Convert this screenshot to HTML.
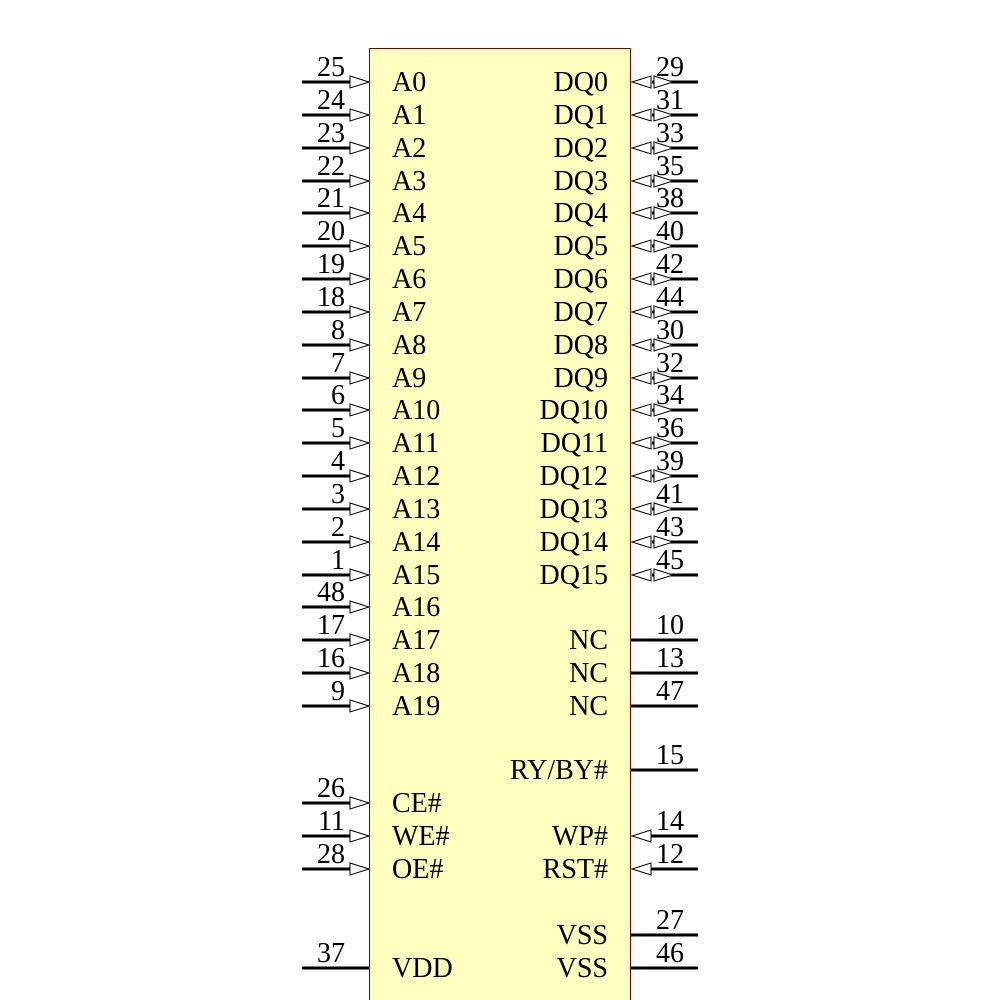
<!DOCTYPE html>
<html><head><meta charset="utf-8"><style>html,body{margin:0;padding:0;background:#fff}svg{display:block}text{font-family:"Liberation Serif",serif;font-size:28px;fill:#000}</style></head><body>
<svg width="1000" height="1000" viewBox="0 0 1000 1000" xmlns="http://www.w3.org/2000/svg">
<defs>
<g id="li"><line x1="302" y1="0" x2="352" y2="0" stroke="#000" stroke-width="3"/><polygon points="350,-6 369,0 350,6" fill="#fff" stroke="#000" stroke-width="1"/></g>
<g id="lp"><line x1="302" y1="0" x2="369" y2="0" stroke="#000" stroke-width="3"/></g>
<g id="rb"><line x1="652" y1="0" x2="698" y2="0" stroke="#000" stroke-width="3"/><polygon points="632,0 651,-6 651,6" fill="#fff" stroke="#000" stroke-width="1"/><polygon points="654,-6 673,0 654,6" fill="#fff" stroke="#000" stroke-width="1"/></g>
<g id="ri"><line x1="650" y1="0" x2="698" y2="0" stroke="#000" stroke-width="3"/><polygon points="632,0 651,-6 651,6" fill="#fff" stroke="#000" stroke-width="1"/></g>
<g id="rp"><line x1="631" y1="0" x2="698" y2="0" stroke="#000" stroke-width="3"/></g>
</defs>
<rect x="369.5" y="48.5" width="261" height="960" fill="#ffffc0" stroke="#800000" stroke-width="1"/>
<g>
<use href="#li" y="82"/><text x="345" y="76" text-anchor="end">25</text><text x="392" y="91">A0</text>
<use href="#li" y="115"/><text x="345" y="109" text-anchor="end">24</text><text x="392" y="124">A1</text>
<use href="#li" y="148"/><text x="345" y="142" text-anchor="end">23</text><text x="392" y="157">A2</text>
<use href="#li" y="181"/><text x="345" y="175" text-anchor="end">22</text><text x="392" y="190">A3</text>
<use href="#li" y="213"/><text x="345" y="207" text-anchor="end">21</text><text x="392" y="222">A4</text>
<use href="#li" y="246"/><text x="345" y="240" text-anchor="end">20</text><text x="392" y="255">A5</text>
<use href="#li" y="279"/><text x="345" y="273" text-anchor="end">19</text><text x="392" y="288">A6</text>
<use href="#li" y="312"/><text x="345" y="306" text-anchor="end">18</text><text x="392" y="321">A7</text>
<use href="#li" y="345"/><text x="345" y="339" text-anchor="end">8</text><text x="392" y="354">A8</text>
<use href="#li" y="378"/><text x="345" y="372" text-anchor="end">7</text><text x="392" y="387">A9</text>
<use href="#li" y="410"/><text x="345" y="404" text-anchor="end">6</text><text x="392" y="419">A10</text>
<use href="#li" y="443"/><text x="345" y="437" text-anchor="end">5</text><text x="392" y="452">A11</text>
<use href="#li" y="476"/><text x="345" y="470" text-anchor="end">4</text><text x="392" y="485">A12</text>
<use href="#li" y="509"/><text x="345" y="503" text-anchor="end">3</text><text x="392" y="518">A13</text>
<use href="#li" y="542"/><text x="345" y="536" text-anchor="end">2</text><text x="392" y="551">A14</text>
<use href="#li" y="575"/><text x="345" y="569" text-anchor="end">1</text><text x="392" y="584">A15</text>
<use href="#li" y="607"/><text x="345" y="601" text-anchor="end">48</text><text x="392" y="616">A16</text>
<use href="#li" y="640"/><text x="345" y="634" text-anchor="end">17</text><text x="392" y="649">A17</text>
<use href="#li" y="673"/><text x="345" y="667" text-anchor="end">16</text><text x="392" y="682">A18</text>
<use href="#li" y="706"/><text x="345" y="700" text-anchor="end">9</text><text x="392" y="715">A19</text>
<use href="#li" y="803"/><text x="345" y="797" text-anchor="end">26</text><text x="392" y="812">CE#</text>
<use href="#li" y="836"/><text x="345" y="830" text-anchor="end">11</text><text x="392" y="845">WE#</text>
<use href="#li" y="869"/><text x="345" y="863" text-anchor="end">28</text><text x="392" y="878">OE#</text>
<use href="#lp" y="968"/><text x="345" y="962" text-anchor="end">37</text><text x="392" y="977">VDD</text>
</g>
<g>
<use href="#rb" y="82"/><text x="656" y="76">29</text><text x="608" y="91" text-anchor="end">DQ0</text>
<use href="#rb" y="115"/><text x="656" y="109">31</text><text x="608" y="124" text-anchor="end">DQ1</text>
<use href="#rb" y="148"/><text x="656" y="142">33</text><text x="608" y="157" text-anchor="end">DQ2</text>
<use href="#rb" y="181"/><text x="656" y="175">35</text><text x="608" y="190" text-anchor="end">DQ3</text>
<use href="#rb" y="213"/><text x="656" y="207">38</text><text x="608" y="222" text-anchor="end">DQ4</text>
<use href="#rb" y="246"/><text x="656" y="240">40</text><text x="608" y="255" text-anchor="end">DQ5</text>
<use href="#rb" y="279"/><text x="656" y="273">42</text><text x="608" y="288" text-anchor="end">DQ6</text>
<use href="#rb" y="312"/><text x="656" y="306">44</text><text x="608" y="321" text-anchor="end">DQ7</text>
<use href="#rb" y="345"/><text x="656" y="339">30</text><text x="608" y="354" text-anchor="end">DQ8</text>
<use href="#rb" y="378"/><text x="656" y="372">32</text><text x="608" y="387" text-anchor="end">DQ9</text>
<use href="#rb" y="410"/><text x="656" y="404">34</text><text x="608" y="419" text-anchor="end">DQ10</text>
<use href="#rb" y="443"/><text x="656" y="437">36</text><text x="608" y="452" text-anchor="end">DQ11</text>
<use href="#rb" y="476"/><text x="656" y="470">39</text><text x="608" y="485" text-anchor="end">DQ12</text>
<use href="#rb" y="509"/><text x="656" y="503">41</text><text x="608" y="518" text-anchor="end">DQ13</text>
<use href="#rb" y="542"/><text x="656" y="536">43</text><text x="608" y="551" text-anchor="end">DQ14</text>
<use href="#rb" y="575"/><text x="656" y="569">45</text><text x="608" y="584" text-anchor="end">DQ15</text>
<use href="#rp" y="640"/><text x="656" y="634">10</text><text x="608" y="649" text-anchor="end">NC</text>
<use href="#rp" y="673"/><text x="656" y="667">13</text><text x="608" y="682" text-anchor="end">NC</text>
<use href="#rp" y="706"/><text x="656" y="700">47</text><text x="608" y="715" text-anchor="end">NC</text>
<use href="#rp" y="770"/><text x="656" y="764">15</text><text x="608" y="779" text-anchor="end">RY/BY#</text>
<use href="#ri" y="836"/><text x="656" y="830">14</text><text x="608" y="845" text-anchor="end">WP#</text>
<use href="#ri" y="869"/><text x="656" y="863">12</text><text x="608" y="878" text-anchor="end">RST#</text>
<use href="#rp" y="935"/><text x="656" y="929">27</text><text x="608" y="944" text-anchor="end">VSS</text>
<use href="#rp" y="968"/><text x="656" y="962">46</text><text x="608" y="977" text-anchor="end">VSS</text>
</g>
</svg>
</body></html>
